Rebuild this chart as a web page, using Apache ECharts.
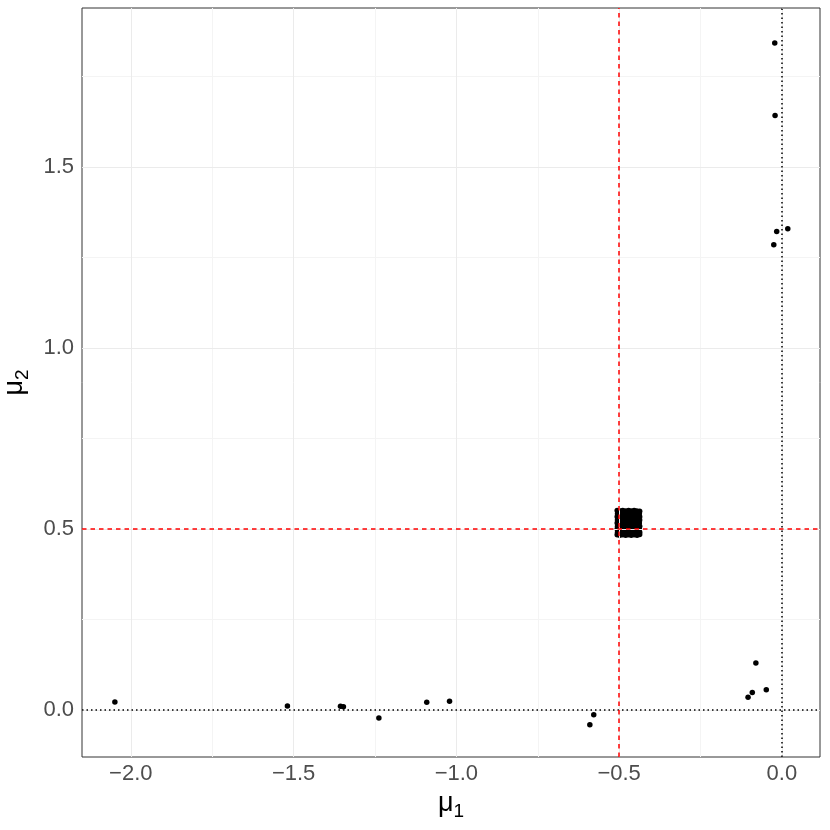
<!DOCTYPE html>
<html>
<head>
<meta charset="utf-8">
<script src="https://cdn.jsdelivr.net/npm/echarts@6/dist/echarts.min.js"></script>
<style>
  html, body { margin: 0; padding: 0; background: #fff; }
  #chart { width: 830px; height: 830px; }
</style>
</head>
<body>
<div id="chart"></div>
<script>
// scattered estimates (mu1, mu2)
const muOne = [-2.049, -1.519, -1.356, -1.347, -1.238, -1.091, -1.021, -0.590, -0.578,
  -0.104, -0.091, -0.080, -0.048, -0.025, -0.016, 0.018, -0.021, -0.022]
const muTwo = [0.022, 0.011, 0.010, 0.009, -0.022, 0.021, 0.024, -0.041, -0.013,
  0.035, 0.048, 0.130, 0.056, 1.286, 1.322, 1.330, 1.643, 1.843]

// the dense cluster near the truth (-0.5, 0.5)
const clusterX = [
  -0.506, -0.497, -0.489, -0.480, -0.471, -0.463, -0.454, -0.446, -0.437,
  -0.505, -0.498, -0.488, -0.481, -0.472, -0.462, -0.455, -0.445, -0.438,
  -0.506, -0.496, -0.489, -0.479, -0.470, -0.463, -0.453, -0.446, -0.437,
  -0.505, -0.497, -0.490, -0.480, -0.471, -0.464, -0.454, -0.447, -0.437,
  -0.506, -0.498, -0.488, -0.481, -0.472, -0.462, -0.455, -0.445, -0.438,
  -0.505, -0.497, -0.489, -0.479, -0.471, -0.463, -0.453, -0.446, -0.437,
  -0.506, -0.496, -0.490, -0.480, -0.470, -0.464, -0.454, -0.447, -0.438,
  -0.505, -0.497, -0.488, -0.481, -0.471, -0.462, -0.455, -0.446, -0.437,
  -0.506, -0.498, -0.489, -0.480, -0.472, -0.463, -0.454, -0.445, -0.437,
]
const clusterY = [
  0.551, 0.550, 0.551, 0.550, 0.551, 0.550, 0.551, 0.550, 0.549,
  0.542, 0.543, 0.542, 0.541, 0.542, 0.543, 0.542, 0.541, 0.542,
  0.534, 0.533, 0.534, 0.535, 0.534, 0.533, 0.534, 0.535, 0.534,
  0.525, 0.526, 0.525, 0.524, 0.525, 0.526, 0.525, 0.524, 0.525,
  0.517, 0.516, 0.517, 0.518, 0.517, 0.516, 0.517, 0.518, 0.517,
  0.508, 0.509, 0.508, 0.507, 0.508, 0.509, 0.508, 0.507, 0.508,
  0.500, 0.499, 0.500, 0.501, 0.500, 0.499, 0.500, 0.501, 0.500,
  0.491, 0.492, 0.491, 0.490, 0.491, 0.492, 0.491, 0.490, 0.491,
  0.484, 0.483, 0.484, 0.483, 0.484, 0.483, 0.484, 0.483, 0.485,
]

const xBreaks = [-2.0, -1.5, -1.0, -0.5, 0.0]
const xMinor = [-1.75, -1.25, -0.75, -0.25]
const yBreaks = [0.0, 0.5, 1.0, 1.5]
const yMinor = [0.25, 0.75, 1.25, 1.75]
const zeroLine = [0, 0]
const trueMu = [-0.5, 0.5]

const chart = echarts.init(document.getElementById('chart'))

const fmt = (v) => v.toFixed(1).replace('-', '\u2212')
const gridLine = (color) => ({ color, width: 1, type: 'solid' })

const points = muOne.map((x, i) => [x, muTwo[i]])
  .concat(clusterX.map((x, i) => [x, clusterY[i]]))

const nameRich = {
  m: { fontSize: 27, color: '#000', fontFamily: 'Liberation Sans' },
  s: { fontSize: 19, color: '#000', fontFamily: 'Liberation Sans', padding: [16, 0, 0, 0] },
}

function refLines(values, lineStyle) {
  return {
    type: 'scatter', data: [], silent: true, z: 5,
    markLine: {
      silent: true, symbol: ['none', 'none'], label: { show: false }, animation: false,
      lineStyle,
      emphasis: { disabled: true },
      data: [{ xAxis: values[0] }, { yAxis: values[1] }],
    },
  }
}

chart.setOption({
  animation: false,
  backgroundColor: '#fff',
  grid: {
    left: 82, right: 10, top: 8, bottom: 73,
    show: true, borderColor: '#333', borderWidth: 1, backgroundColor: '#fff',
    containLabel: false, outerBoundsMode: 'none',
  },
  xAxis: {
    type: 'value', min: -2.15, max: 0.117,
    name: '{m|μ}{s|1}', nameLocation: 'middle', nameGap: 24,
    nameTextStyle: { rich: nameRich },
    axisLine: { show: false },
    axisTick: { show: true, customValues: xBreaks, length: 4, lineStyle: { color: '#333' } },
    axisLabel: {
      customValues: xBreaks, formatter: fmt, margin: 6,
      fontSize: 22, color: '#4D4D4D', fontFamily: 'Liberation Sans',
    },
    splitLine: { show: false },
  },
  yAxis: {
    type: 'value', min: -0.13, max: 1.94,
    name: '{m|μ}{s|2}', nameLocation: 'middle', nameGap: 48, nameRotate: 90,
    nameTextStyle: { rich: nameRich },
    axisLine: { show: false },
    axisTick: { show: true, customValues: yBreaks, length: 4, lineStyle: { color: '#333' } },
    axisLabel: {
      customValues: yBreaks, formatter: fmt, margin: 8,
      fontSize: 22, color: '#4D4D4D', fontFamily: 'Liberation Sans',
    },
    splitLine: { show: false },
  },
  series: [
    {
      // panel grid lines
      type: 'scatter', data: [], silent: true, z: 1,
      markLine: {
        silent: true, symbol: ['none', 'none'], label: { show: false }, animation: false,
        emphasis: { disabled: true },
        data: [
          ...xMinor.map((v) => ({ xAxis: v, lineStyle: gridLine('#F4F4F4') })),
          ...yMinor.map((v) => ({ yAxis: v, lineStyle: gridLine('#F4F4F4') })),
          ...xBreaks.map((v) => ({ xAxis: v, lineStyle: gridLine('#EBEBEB') })),
          ...yBreaks.map((v) => ({ yAxis: v, lineStyle: gridLine('#EBEBEB') })),
        ],
      },
    },
    {
      type: 'scatter', data: points, symbolSize: 5.5, z: 3,
      itemStyle: { color: '#000', opacity: 1 },
    },
    refLines(zeroLine, { color: '#000', width: 1.5, type: [1.5, 3], opacity: 1 }),
    refLines(trueMu, { color: '#FF0000', width: 1.5, type: [4.5, 4], opacity: 1 }),
  ],
})
</script>
</body>
</html>
